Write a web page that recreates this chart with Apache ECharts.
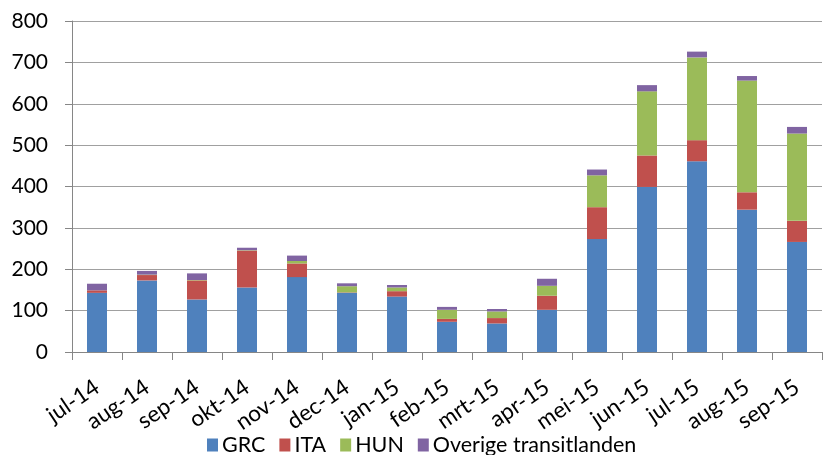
<!DOCTYPE html>
<html><head><meta charset="utf-8">
<script src="https://cdn.jsdelivr.net/npm/echarts@6/dist/echarts.min.js"></script>
<style>html,body{margin:0;padding:0;background:#fff}#c{width:823px;height:455px}</style>
</head><body><div id="c"></div>
<script>
const categories = ['jul-14','aug-14','sep-14','okt-14','nov-14','dec-14','jan-15','feb-15','mrt-15','apr-15','mei-15','jun-15','jul-15','aug-15','sep-15'];
const GRC = [143,173,127,156,181,143,134,73,69,102,273,399,461,344,266];
const ITA = [6,13,46,89,33,1,13,7,13,34,77,76,51,42,51];
const HUN = [0,1,1,1,6,15,9,22,16,24,77,155,200,270,211];
const OVERIGE = [16,9,16,6,13,7,6,7,6,17,14,15,14,11,16];
const yTicks = [0,100,200,300,400,500,600,700,800];

const FONT = "Lato,'Open Sans','Noto Sans',sans-serif";
const colors = ['#4F81BD','#C0504D','#9BBB59','#8064A2'];
const names = ['GRC','ITA','HUN','Overige transitlanden'];
const data = [GRC, ITA, HUN, OVERIGE];

const chart = echarts.init(document.getElementById('c'), null, {renderer:'canvas'});
chart.setOption({
  animation:false,
  color: colors,
  textStyle:{fontFamily:FONT},
  grid:{left:72, right:1, top:21, bottom:103, containLabel:false},
  legend:{
    left:202, bottom:-6, itemWidth:11, itemHeight:13, itemGap:14,
    icon:'rect',
    textStyle:{fontFamily:FONT, fontSize:21.5, color:'#000', padding:[0,0,0,-1]},
    data: names
  },
  xAxis:{
    type:'category', data:categories, boundaryGap:true,
    axisLine:{lineStyle:{color:'#868686', width:1}},
    axisTick:{show:true, length:8, alignWithLabel:false, lineStyle:{color:'#868686'}},
    axisLabel:{rotate:34, fontSize:22.5, color:'#000', fontFamily:FONT, margin:33, interval:0}
  },
  yAxis:{
    type:'value', min:yTicks[0], max:yTicks[yTicks.length-1], interval:100,
    axisLine:{show:true, lineStyle:{color:'#868686'}},
    axisTick:{show:true, length:7, lineStyle:{color:'#868686'}},
    splitLine:{lineStyle:{color:'#a0a0a0', width:1}},
    axisLabel:{fontSize:21, color:'#000', fontFamily:FONT, margin:24}
  },
  series: names.map((n,i)=>({
    name:n, type:'bar', stack:'total', data:data[i], barWidth:20
  }))
});
</script></body></html>
